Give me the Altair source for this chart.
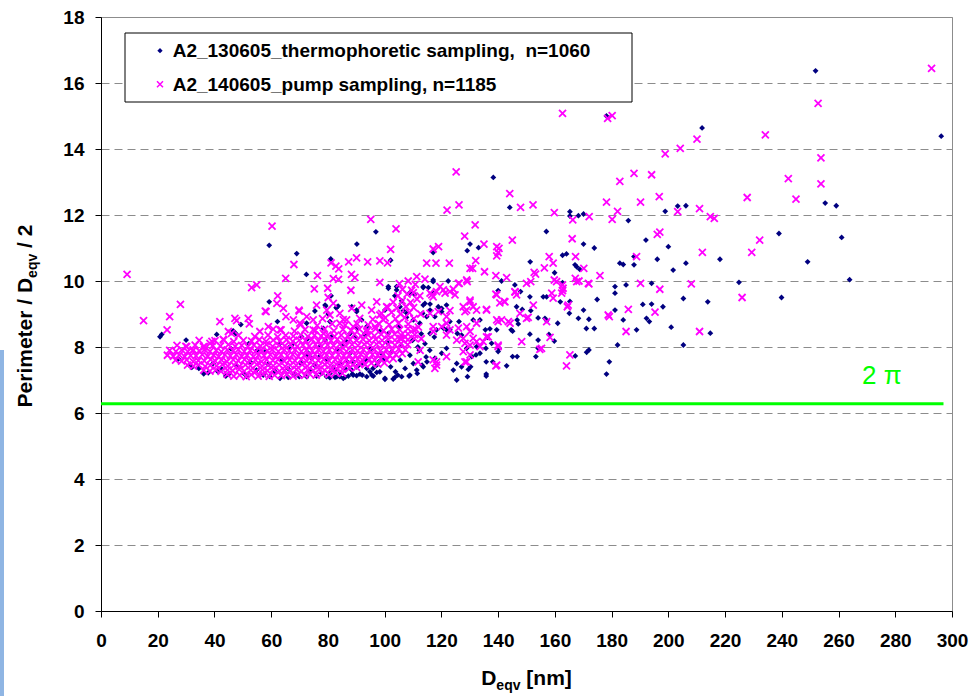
import altair as alt
import pandas as pd

# ---------------- data ----------------
legend_labels = ["A2_130605_thermophoretic sampling, \u00a0n=1060",
                 "A2_140605_pump sampling, n=1185"]
x_ticks = [0, 20, 40, 60, 80, 100, 120, 140, 160, 180, 200, 220, 240, 260, 280, 300]
y_ticks = [0, 2, 4, 6, 8, 10, 12, 14, 16, 18]
two_pi = 6.2832
green_x = [0, 297]
two_pi_label = ["2 π"]
two_pi_label_pos = [275.3, 7.12]

# A2_130605 thermophoretic sampling (navy diamonds): (Deqv, Perimeter/Deqv/2)
thermo_pts = [
    (251.9, 16.37), (296.2, 14.39), (211.9, 14.64), (178.2, 15.0), (138.3, 13.14), (144.1, 12.23),
    (165.3, 12.1), (165.3, 11.97), (168.3, 11.98), (170.1, 12.03), (185.9, 11.83), (198.9, 12.11),
    (203.3, 12.27), (206.2, 12.28), (255.3, 12.36), (259.2, 12.28), (157, 11.5),
    (170.1, 11.12), (173.9, 11.0), (192.1, 11.24), (200, 11.04), (239, 11.44), (261.1, 11.32),
    (117.1, 10.86), (130.1, 11.12), (133.1, 11.01), (129.1, 10.92), (151.3, 10.58), (162.7, 10.78),
    (164.1, 10.82), (167.1, 10.49), (167.7, 10.43), (168.8, 10.35), (187.9, 10.74), (182.9, 10.54),
    (184.1, 10.5), (187.9, 10.49), (196.1, 10.66), (201.7, 10.33), (206.2, 10.54), (218.2, 10.66),
    (249.1, 10.58), (159.9, 10.25), (145.9, 9.88), (141.2, 10.0), (140, 9.71), (147.9, 9.68),
    (162.7, 9.95), (181.2, 9.83), (181.2, 9.63), (185.1, 9.88), (194.1, 9.93), (224.9, 9.96),
    (263.9, 10.04), (165.3, 9.38), (165.1, 9.02), (170.1, 9.12), (174.9, 9.44), (181.2, 9.12),
    (191, 9.29), (194.1, 9.3), (198.1, 9.22), (205.3, 9.47), (239.9, 9.5), (213.9, 9.37),
    (168.3, 8.87), (172, 8.84), (171.1, 8.56), (173.9, 8.56), (184.1, 8.82), (192.3, 8.87),
    (193.3, 8.77), (188.8, 8.52), (201, 8.6), (214.8, 8.42), (205.3, 8.06), (182.1, 8.06),
    (172, 7.91), (171.2, 7.84), (167.2, 7.73), (179.2, 7.55), (178.2, 7.18),
    (151.2, 9.52), (155.9, 9.52), (157.1, 9.52), (161.9, 9.37), (146.5, 9.22), (148.5, 9.14),
    (151.5, 9.1), (154.1, 8.88), (156.5, 8.87), (157.1, 8.8), (161, 8.72), (144.6, 8.52),
    (145.1, 8.48), (146.7, 8.82), (147.1, 8.7), (151.2, 8.39), (157.9, 8.38), (159.8, 8.18),
    (154.1, 8.21), (154.1, 7.96), (153.3, 7.71), (146.7, 7.71), (145.1, 7.71), (140, 7.86),
    (140.4, 7.96), (135.7, 7.96), (137.7, 8.11), (138.1, 7.55), (135.8, 7.55), (135.8, 7.18),
    (135.8, 7.12), (143, 7.43), (130.3, 7.4), (129.2, 7.1), (125.4, 7.0), (127.1, 7.4),
    (129.5, 7.32), (133.6, 7.81), (132.2, 7.76), (130.7, 7.71), (139.5, 8.52), (137.1, 8.55),
    (133.6, 8.82), (131.2, 8.82), (135.5, 8.52), (136.2, 8.29), (132.4, 8.01), (128.9, 7.96),
    (125.6, 8.41), (127.1, 8.36), (126.2, 8.77), (123, 8.77), (121.8, 8.52), (123, 8.52),
    (117.1, 10.03), (113.6, 9.8), (115.4, 9.8), (117.1, 9.63), (122.4, 10.0), (108.9, 9.65),
    (104.2, 9.83), (104.2, 9.73), (121.8, 9.27), (120.1, 9.17), (114.2, 9.32), (116, 9.3),
    (114.8, 8.92), (113.4, 9.02), (105.4, 9.22), (107.8, 9.02), (110.1, 8.82), (112.4, 8.72),
    (116, 8.41), (118.3, 8.52), (120.7, 8.57), (121.8, 7.96), (120.1, 7.81), (117.7, 7.66),
    (113.6, 7.4), (111.3, 7.3), (108.9, 7.15), (106, 7.1), (103.6, 7.08), (100.1, 7.05),
    (124.2, 7.3), (125.4, 7.5), (113.6, 9.83), (117.1, 9.98), (101.3, 9.83), (106, 9.4),
    (113.6, 9.27), (116, 9.12), (118.9, 9.22), (120.1, 9.07), (117.7, 8.92),
    (59.3, 11.08), (69, 10.83), (72.4, 10.2), (81, 10.67), (90.2, 11.12), (96.9, 11.49),
    (102.1, 10.63), (81.1, 9.55), (59.3, 9.37), (20.8, 8.31), (21.4, 8.38), (30, 8.21),
    (40.8, 8.38), (27.3, 7.64), (31.1, 7.45), (32, 7.38), (36.2, 7.19), (44, 7.12), (41, 7.27),
    (46.6, 8.49), (47.5, 8.41), (49.3, 8.68), (55.1, 7.9), (63.1, 8.11), (67.8, 8.11),
    (82.9, 9.19), (79.2, 9.24), (80.1, 9.0), (75.4, 9.09), (72.5, 8.72), (62.2, 8.77),
    (90.1, 9.12), (87.8, 8.41), (90.2, 8.57), (93.1, 8.41), (101.3, 9.78), (103.6, 9.55),
    (100.1, 9.12),
    (80.7, 7.07), (82.5, 7.08), (84.2, 7.1), (86, 7.08), (88.6, 7.18), (90.1, 7.13), (92.1, 7.15),
    (93.7, 7.1), (95.5, 7.15), (97.2, 7.23), (100.1, 7.02), (103, 7.03), (104.6, 7.15), (66, 7.08),
    (69.9, 7.1), (72.5, 7.1), (76, 7.12), (59.6, 7.1), (51.4, 7.1), (63.1, 7.05), (79.5, 7.1),
    (83.1, 7.1), (85.4, 7.05), (87.2, 7.12), (88.9, 7.15), (91.3, 7.18), (96, 7.12),
    (79, 9.27), (83.1, 9.2), (83.6, 9.24), (88.4, 9.22), (90.1, 9.07), (80.7, 8.77), (78.4, 8.56),
    (70.7, 8.31), (72.5, 7.76), (73.1, 7.81), (81.3, 8.31), (83.1, 7.91), (86.6, 8.16),
    (87.8, 7.81), (88.9, 7.55), (90.1, 7.4), (91.9, 7.5), (93.7, 7.35), (94.8, 7.25), (97.2, 7.45),
    (98.3, 7.25), (99.5, 7.61), (101.3, 8.41), (98.3, 8.47), (93.7, 8.62), (91.9, 8.82),
    (93.1, 8.36), (79, 8.21), (77.2, 8.01), (74.3, 7.66), (84.2, 7.5), (86, 7.35), (80.7, 7.2),
    (82.5, 7.3),
    (34.5, 7.35), (37.8, 7.22), (39.5, 7.5), (42.6, 7.33), (45.1, 7.18), (47.9, 7.42), (50.3, 7.2),
    (52.6, 7.55), (54.8, 7.3), (57.2, 7.15), (58.9, 7.48), (61.4, 7.25), (63.8, 7.6), (65.9, 7.35),
    (68.1, 7.18), (70.3, 7.52), (73.5, 7.28), (75.2, 7.45), (77.8, 7.2), (79.6, 7.62), (81.9, 7.38),
    (84.5, 7.22), (86.8, 7.55), (88.4, 7.3), (90.9, 7.45), (93.2, 7.62), (95.9, 7.35), (97.9, 7.55),
    (99.2, 7.78), (102.1, 7.4), (103.8, 7.25), (105.5, 7.6), (107.2, 7.35), (108.6, 7.12),
    (110.1, 7.5), (111.5, 7.2), (113.2, 7.45), (114.6, 7.7),
    (45.8, 7.95), (52.1, 8.1), (57.8, 7.85), (66.2, 7.98), (72.8, 8.25), (76.9, 7.7), (85.1, 8.05),
    (89.6, 8.3), (95.1, 7.95), (100.8, 8.15), (104.9, 8.6), (107.7, 8.9), (106.6, 9.1),
    (110.4, 9.6), (109.8, 8.2), (112.9, 8.4), (114.2, 8.1), (115.9, 7.9), (117.5, 8.3),
    (102.5, 7.85), (105.8, 8.05), (108.9, 7.75), (111.7, 8.0), (114.9, 7.55), (112.2, 7.9),
]

# A2_140605 pump sampling (magenta crosses): (Deqv, Perimeter/Deqv/2)
pump_pts = [
    (292.8, 16.44), (252.8, 15.38), (162.7, 15.08), (178.6, 14.93), (180.2, 15.01), (210.1, 14.3),
    (204.2, 14.02), (198.9, 13.85), (234.2, 14.43), (253.8, 13.73), (242.3, 13.1), (253.8, 12.94),
    (125.2, 13.31), (182.9, 13.02), (187.9, 13.26), (194.1, 13.22),
    (144.1, 12.65), (196.8, 12.56), (190.2, 12.39), (178.2, 12.39), (147.9, 12.23), (152.3, 12.31),
    (122, 12.15), (126.2, 12.31), (159.8, 12.07), (166.3, 11.85), (172.1, 11.95), (180.2, 11.87),
    (182.1, 12.11), (203.3, 12.1), (211, 12.19), (214.8, 11.95), (216.2, 11.9), (227.8, 12.53),
    (245, 12.48),
    (104, 11.58), (102.1, 10.96), (131.9, 11.7), (128.2, 11.36), (145, 11.24), (166.1, 11.28),
    (196.1, 11.41), (197, 11.48), (232.2, 11.24), (212, 10.87), (229.4, 10.87), (117.1, 10.97),
    (119, 11.04), (135, 11.12), (139.5, 11.04), (140.3, 10.99), (139.5, 10.76), (140, 10.86),
    (132.1, 10.62), (130.1, 10.38), (131, 10.38), (114.8, 10.54), (118.1, 10.54), (122.8, 10.54),
    (135.2, 10.28), (158, 10.74), (167.3, 10.74), (170.2, 10.38), (175.9, 10.16), (188.8, 10.74),
    (152.7, 10.26), (153.2, 10.21), (156.3, 10.4), (159.4, 10.54), (150, 9.93), (151.5, 9.98),
    (143, 10.1), (139.2, 10.16), (139.2, 9.6), (142.1, 9.38), (140.6, 9.34), (146, 9.66),
    (159.8, 10.03), (162.7, 9.88), (162.9, 9.78), (162.7, 9.71), (167.2, 10.08), (168.5, 10.0),
    (172, 9.91), (190.2, 9.93), (197, 9.75), (208.1, 9.91), (226, 9.5), (164.4, 9.22),
    (185.9, 9.14), (179.2, 8.92), (195.3, 9.06), (185.1, 8.47), (211, 8.47), (165.3, 7.76),
    (164.1, 7.43),
    (116, 9.63), (117.1, 9.52), (119.5, 9.83), (121.3, 9.63), (123, 9.68), (124.8, 9.58),
    (126, 9.93), (128.9, 10.03), (130.1, 9.37), (131.2, 9.22), (128.3, 9.07), (132.4, 9.12),
    (135.9, 9.12), (139.5, 9.58), (142.4, 9.37), (145.9, 9.68), (146.5, 9.58), (152.4, 9.27),
    (150, 8.87), (143.6, 8.77), (140, 8.77), (144.2, 8.72), (141.2, 8.82), (158.9, 9.63),
    (159.4, 9.48), (162.4, 9.63), (160.6, 9.98), (167.7, 9.98), (171.8, 9.93), (164.7, 9.27),
    (157.1, 8.77), (155.3, 7.96), (178.8, 8.97), (117.1, 8.62), (121.8, 8.72), (123, 8.52),
    (126, 8.57), (128.9, 8.62), (130.1, 8.47), (132.4, 8.72), (125.4, 8.21), (128.3, 8.11),
    (131.2, 8.26), (134.7, 8.16), (136.5, 8.31), (140, 8.06), (148.3, 8.16), (121.8, 7.71),
    (118.3, 7.55), (117.7, 7.35), (127.7, 7.86), (130.1, 7.76), (128.9, 7.55), (139.5, 7.45),
    (111.3, 10.13), (114.2, 10.06), (110.1, 9.65), (112.4, 9.55), (116.6, 9.58), (118.3, 9.68),
    (120.7, 9.73), (124.2, 9.75), (126.3, 9.93), (129.1, 9.98), (130.1, 9.42), (127.7, 9.22),
    (128.9, 9.12), (135.9, 9.14), (116, 9.02), (118.9, 9.07), (121.8, 8.92), (123, 9.1),
    (117.1, 8.47), (120.1, 8.62), (121.8, 8.36), (127.7, 8.26), (130.1, 8.06), (132.4, 8.16),
    (133.6, 8.01), (135.9, 8.31), (139.5, 8.82), (147.7, 9.02), (150.6, 8.9), (140, 8.01),
    (139.2, 7.43), (154.7, 7.93), (158.3, 8.29), (117.1, 7.61), (118.3, 7.45), (128.3, 7.55),
    (105.4, 8.26), (107.2, 8.31), (110.1, 8.52),
    (9.2, 10.2), (15, 8.8), (24.2, 8.92), (28, 9.29), (23.3, 8.52), (60.3, 11.66), (68, 10.5),
    (65.1, 10.08), (76.3, 10.16), (53.1, 9.8), (54.9, 9.88), (62.3, 9.55), (62, 9.32),
    (57.9, 9.09), (69.9, 9.09), (75.2, 9.76), (79.9, 9.78), (81.1, 10.55), (82.8, 10.45),
    (83.8, 10.37), (81.9, 10.07), (83.7, 10.05), (90.1, 10.7), (87.3, 10.58), (94, 10.58),
    (95.1, 11.87), (98.3, 10.61), (101, 10.55), (88.3, 10.2), (89.5, 10.1), (98.3, 9.96),
    (88.1, 9.72), (80.1, 9.5),
    (41.9, 8.77), (47.2, 8.87), (47.8, 8.8), (51.9, 8.87), (52.3, 8.7), (58.2, 9.07), (64.3, 9.17),
    (65.2, 8.92), (69.8, 9.12), (56, 8.47), (59, 8.62), (60.7, 8.54), (63.1, 8.52), (43.1, 8.23),
    (40.2, 8.19), (44.9, 8.47), (46, 8.41), (30.2, 8.01), (32.5, 7.91), (36.1, 8.01), (38.4, 8.11),
    (76, 9.27), (79.6, 9.12), (81.9, 9.32), (84.2, 9.02), (86.6, 8.82), (88.4, 9.17), (91.9, 9.27),
    (95.4, 9.12), (97.2, 9.37), (98.3, 8.97), (100.7, 9.22), (99.5, 8.82), (96.6, 8.62),
    (93.7, 8.47), (88.9, 8.62), (84.2, 8.72), (80.7, 8.97), (74.8, 8.82), (72.5, 8.92),
    (70.1, 8.72), (67.8, 8.82), (74.8, 8.52), (78.4, 8.41),
    # dense band
    (44.5, 7.17), (46.8, 7.12), (48.9, 7.15), (51.2, 7.1), (53.0, 7.16), (55.4, 7.12), (57.1, 7.18),
    (59.3, 7.11), (61.2, 7.15), (63.6, 7.13), (65.4, 7.17), (67.7, 7.12), (69.5, 7.16), (71.8, 7.14),
    (73.6, 7.18), (75.9, 7.15), (78.2, 7.2), (80.4, 7.17), (82.7, 7.22), (85.1, 7.2),
    (36.2, 7.3), (38.4, 7.27), (40.5, 7.31), (42.3, 7.26), (44.6, 7.3), (46.4, 7.28), (48.7, 7.32),
    (50.5, 7.27), (52.8, 7.3), (54.6, 7.26), (56.9, 7.31), (58.7, 7.28), (60.8, 7.32), (62.9, 7.27),
    (64.7, 7.3), (66.8, 7.28), (68.9, 7.32), (70.7, 7.27), (72.9, 7.31), (74.8, 7.29), (76.9, 7.33),
    (78.8, 7.3), (80.9, 7.32), (83.0, 7.35), (85.2, 7.33), (87.6, 7.36), (90.1, 7.38),
    (30.5, 7.45), (32.6, 7.42), (34.4, 7.46), (36.7, 7.41), (38.5, 7.44), (40.7, 7.43), (42.8, 7.47),
    (44.7, 7.42), (46.9, 7.45), (48.8, 7.41), (50.9, 7.46), (52.7, 7.43), (54.9, 7.47), (56.8, 7.42),
    (58.9, 7.45), (60.7, 7.43), (62.8, 7.46), (64.9, 7.41), (66.7, 7.45), (68.8, 7.44), (70.9, 7.47),
    (72.7, 7.42), (74.9, 7.46), (76.8, 7.43), (78.9, 7.47), (80.8, 7.44), (82.9, 7.48), (84.8, 7.45),
    (86.9, 7.49), (88.8, 7.46), (91.0, 7.5), (93.1, 7.47), (95.3, 7.51), (97.6, 7.48), (99.9, 7.52),
    (26.3, 7.6), (28.4, 7.57), (30.2, 7.61), (32.5, 7.56), (34.3, 7.59), (36.4, 7.58), (38.6, 7.62),
    (40.3, 7.57), (42.5, 7.6), (44.4, 7.56), (46.6, 7.61), (48.4, 7.58), (50.6, 7.62), (52.4, 7.57),
    (54.5, 7.6), (56.6, 7.56), (58.4, 7.61), (60.6, 7.59), (62.4, 7.62), (64.6, 7.57), (66.5, 7.6),
    (68.4, 7.58), (70.6, 7.62), (72.5, 7.57), (74.4, 7.61), (76.6, 7.59), (78.5, 7.62), (80.4, 7.58),
    (82.6, 7.61), (84.5, 7.57), (86.4, 7.62), (88.6, 7.6), (90.5, 7.63), (92.4, 7.59), (94.6, 7.62),
    (96.5, 7.6), (98.6, 7.64), (100.7, 7.61), (103.0, 7.65),
    (23.4, 7.75), (25.5, 7.72), (27.6, 7.76), (29.5, 7.71), (31.6, 7.74), (33.5, 7.73), (35.7, 7.77),
    (37.6, 7.72), (39.7, 7.75), (41.5, 7.71), (43.7, 7.76), (45.6, 7.73), (47.7, 7.77), (49.6, 7.72),
    (51.5, 7.75), (53.7, 7.71), (55.6, 7.76), (57.5, 7.74), (59.7, 7.77), (61.6, 7.72), (63.5, 7.76),
    (65.7, 7.73), (67.6, 7.77), (69.5, 7.72), (71.7, 7.75), (73.6, 7.73), (75.5, 7.77), (77.7, 7.72),
    (79.6, 7.76), (81.5, 7.74), (83.7, 7.77), (85.6, 7.73), (87.5, 7.76), (89.7, 7.74), (91.6, 7.78),
    (93.5, 7.73), (95.7, 7.77), (97.6, 7.75), (99.5, 7.78), (101.7, 7.74), (104.0, 7.77), (106.2, 7.8),
    (24.2, 7.9), (26.4, 7.87), (28.5, 7.91), (30.6, 7.86), (32.4, 7.89), (34.6, 7.88), (36.5, 7.92),
    (38.4, 7.87), (40.6, 7.9), (42.4, 7.86), (44.5, 7.91), (46.6, 7.88), (48.4, 7.92), (50.5, 7.87),
    (52.6, 7.9), (54.4, 7.86), (56.5, 7.91), (58.6, 7.89), (60.4, 7.92), (62.5, 7.87), (64.6, 7.91),
    (66.4, 7.88), (68.5, 7.92), (70.6, 7.87), (72.4, 7.9), (74.5, 7.88), (76.6, 7.92), (78.4, 7.87),
    (80.5, 7.91), (82.6, 7.89), (84.4, 7.92), (86.5, 7.87), (88.6, 7.91), (90.4, 7.88), (92.5, 7.92),
    (94.6, 7.89), (96.4, 7.93), (98.5, 7.88), (100.6, 7.92), (102.7, 7.9), (105.0, 7.94), (107.3, 7.91),
    (26.8, 8.05), (29.9, 8.02), (33.2, 8.06), (36.5, 8.01), (39.4, 8.04), (42.1, 8.03), (44.9, 8.07),
    (47.3, 8.02), (49.6, 8.05), (51.8, 8.01), (53.9, 8.06), (56.2, 8.03), (58.3, 8.07), (60.5, 8.02),
    (62.7, 8.05), (64.8, 8.03), (66.9, 8.07), (69.1, 8.02), (71.2, 8.06), (73.4, 8.03), (75.6, 8.07),
    (77.7, 8.02), (79.9, 8.06), (82.0, 8.04), (84.2, 8.08), (86.3, 8.03), (88.5, 8.07), (90.6, 8.04),
    (92.8, 8.08), (94.9, 8.05), (97.1, 8.09), (99.2, 8.04), (101.4, 8.08), (103.6, 8.06), (105.8, 8.1),
    (108.1, 8.07),
    (34.6, 8.2), (39.1, 8.17), (43.3, 8.21), (46.8, 8.16), (50.2, 8.2), (53.1, 8.18), (55.8, 8.22),
    (58.2, 8.17), (60.7, 8.21), (63.0, 8.18), (65.4, 8.22), (67.6, 8.17), (69.9, 8.21), (72.1, 8.19),
    (74.4, 8.23), (76.6, 8.18), (78.9, 8.22), (81.1, 8.19), (83.3, 8.23), (85.6, 8.18), (87.8, 8.22),
    (90.1, 8.2), (92.3, 8.24), (94.6, 8.19), (96.8, 8.23), (99.1, 8.2), (101.3, 8.24), (103.6, 8.21),
    (105.9, 8.25), (108.2, 8.22), (110.5, 8.26),
    (48.5, 8.35), (54.2, 8.32), (58.9, 8.36), (62.3, 8.31), (65.1, 8.35), (67.8, 8.33), (70.4, 8.37),
    (72.9, 8.32), (75.3, 8.36), (77.6, 8.33), (80.0, 8.37), (82.3, 8.32), (84.7, 8.36), (87.0, 8.34),
    (89.4, 8.38), (91.7, 8.33), (94.1, 8.37), (96.4, 8.34), (98.8, 8.38), (101.1, 8.35), (103.5, 8.39),
    (105.8, 8.36), (108.2, 8.4), (110.6, 8.37),
    (63.5, 8.52), (68.2, 8.48), (71.9, 8.53), (75.5, 8.5), (78.8, 8.54), (82.1, 8.49), (85.3, 8.53),
    (88.2, 8.5), (91.1, 8.54), (93.9, 8.51), (96.8, 8.55), (99.6, 8.5), (102.5, 8.54), (105.3, 8.52),
    (108.2, 8.56), (111.0, 8.53),
    (70.5, 8.68), (76.2, 8.65), (81.5, 8.7), (86.1, 8.66), (90.3, 8.7), (94.2, 8.67), (97.9, 8.71),
    (101.6, 8.68), (104.9, 8.72), (108.3, 8.69),
    (78.1, 8.86), (85.4, 8.83), (91.2, 8.87), (95.8, 8.84), (100.2, 8.88), (103.8, 8.85),
    (107.1, 8.89), (110.3, 8.86),
    (98.9, 9.02), (102.4, 9.05), (105.6, 9.0), (108.7, 9.04), (101.1, 9.2), (104.3, 9.18),
    (107.5, 9.22), (110.2, 9.19), (103.0, 9.36), (106.2, 9.4), (109.1, 9.35), (104.7, 9.55),
    (107.9, 9.6), (106.3, 9.75), (109.5, 9.72),
    (111.8, 7.55), (112.5, 7.9), (111.9, 8.6), (112.7, 9.0), (111.4, 9.45), (110.8, 9.9),
    (108.3, 10.0), (105.2, 9.92), (112.9, 8.25),
]

# ---------------- layout / style ----------------
W, H = 851, 594
FONT = "Liberation Sans"
NAVY = "#000080"
MAGENTA = "#FF00FF"
GREEN = "#00FF00"
XPATH = "M-1,-1L1,1M-1,1L1,-1"

# Arial/Liberation Sans Bold advance widths (1/1000 em) for title layout
BOLDW = {' ': 278, '/': 278, '2': 556, 'P': 667, 'e': 556, 'r': 389, 'i': 278, 'm': 889,
         't': 333, 'D': 722, 'q': 611, 'v': 556, '[': 333, 'n': 611, ']': 333}


def tw(s, fs):
    return sum(BOLDW[c] for c in s) / 1000.0 * fs


thermo_df = pd.DataFrame(thermo_pts, columns=["d", "p"])
pump_df = pd.DataFrame(pump_pts, columns=["d", "p"])
green_df = pd.DataFrame({"d": green_x, "p": [two_pi] * len(green_x)})
label_df = pd.DataFrame({"d": [two_pi_label_pos[0]], "p": [two_pi_label_pos[1]], "t": two_pi_label})

xs = alt.Scale(domain=[0, 300], nice=False, zero=False)
ys = alt.Scale(domain=[0, 18], nice=False)

x_axis = alt.Axis(values=x_ticks, title=None, grid=False, domainColor="black", domainWidth=1,
                  tickColor="black", tickSize=6, tickWidth=1, labelFont=FONT, labelFontSize=19,
                  labelFontWeight="bold", labelColor="black", labelPadding=14,
                  labelFlush=False, labelOverlap=False)
y_axis = alt.Axis(values=y_ticks, title=None, grid=True, gridColor="#8c8c8c", gridDash=[8, 5],
                  gridWidth=1, domainColor="black", domainWidth=1, tickColor="black", tickSize=6,
                  tickWidth=1, labelFont=FONT, labelFontSize=19, labelFontWeight="bold",
                  labelColor="black", labelPadding=11, labelFlush=False, labelOverlap=False)


def enc(chart):
    return chart.encode(x=alt.X("d:Q", scale=xs, axis=x_axis), y=alt.Y("p:Q", scale=ys, axis=y_axis))


thermo = enc(alt.Chart(thermo_df).mark_point(shape="diamond", filled=True, size=34, color=NAVY,
                                             opacity=1, strokeWidth=0))
pump = enc(alt.Chart(pump_df).mark_point(shape=XPATH, filled=False, size=49, color=MAGENTA,
                                         opacity=1, strokeWidth=1.8))
green = enc(alt.Chart(green_df).mark_line(color=GREEN, strokeWidth=3))
pi_text = enc(alt.Chart(label_df).mark_text(color=GREEN, font=FONT, fontSize=26, align="center",
                                            baseline="middle")).encode(text="t:N")

one = pd.DataFrame({"t": [""]})

strip = alt.Chart(one).mark_rect(fill="#8fb5e3").encode(
    x=alt.value(-101), x2=alt.value(-97), y=alt.value(333), y2=alt.value(679))

legend_box = alt.Chart(one).mark_rect(fill="white", stroke="black", strokeWidth=1).encode(
    x=alt.value(24), x2=alt.value(531), y=alt.value(16), y2=alt.value(85))
leg_sym1 = alt.Chart(one).mark_point(shape="diamond", filled=True, size=28, color=NAVY, opacity=1,
                                     strokeWidth=0).encode(x=alt.value(59), y=alt.value(33.7))
leg_sym2 = alt.Chart(one).mark_point(shape=XPATH, filled=False, size=36, color=MAGENTA, opacity=1,
                                     strokeWidth=1.5).encode(x=alt.value(59), y=alt.value(67.3))
leg_txt1 = alt.Chart(pd.DataFrame({"t": [legend_labels[0]]})).mark_text(
    font=FONT, fontSize=19, fontWeight="bold", color="black", align="left", baseline="middle"
).encode(x=alt.value(71.7), y=alt.value(34), text="t:N")
leg_txt2 = alt.Chart(pd.DataFrame({"t": [legend_labels[1]]})).mark_text(
    font=FONT, fontSize=19, fontWeight="bold", color="black", align="left", baseline="middle"
).encode(x=alt.value(71.7), y=alt.value(67.6), text="t:N")

# x axis title: D_eqv [nm]
TF, SF = 21, 14
xt_total = tw("D", TF) + tw("eqv", SF) + tw(" [nm]", TF)
xt0 = W / 2 - xt_total / 2
xt_base = 668
x_title_parts = [
    ("D", TF, xt0, xt_base),
    ("eqv", SF, xt0 + tw("D", TF), xt_base + 5),
    ("[nm]", TF, xt0 + tw("D", TF) + tw("eqv", SF) + tw(" ", TF), xt_base),
]
x_title = [
    alt.Chart(pd.DataFrame({"t": [s]})).mark_text(
        font=FONT, fontSize=fs, fontWeight="bold", color="black", align="left", baseline="alphabetic"
    ).encode(x=alt.value(px), y=alt.value(py), text="t:N")
    for s, fs, px, py in x_title_parts
]

# y axis title (rotated): Perimeter / D_eqv / 2
yt_total = tw("Perimeter / D", TF) + tw("eqv", SF) + tw(" / 2", TF)
yt0 = 299 + yt_total / 2
yt_base = -69
y_title_parts = [
    ("Perimeter / D", TF, yt_base, yt0),
    ("eqv", SF, yt_base + 5, yt0 - tw("Perimeter / D", TF)),
    ("/ 2", TF, yt_base, yt0 - tw("Perimeter / D", TF) - tw("eqv", SF) - tw(" ", TF)),
]
y_title = [
    alt.Chart(pd.DataFrame({"t": [s]})).mark_text(
        font=FONT, fontSize=fs, fontWeight="bold", color="black", align="left",
        baseline="alphabetic", angle=270
    ).encode(x=alt.value(px), y=alt.value(py), text="t:N")
    for s, fs, px, py in y_title_parts
]

chart = alt.layer(
    thermo, pump, green, pi_text, strip, legend_box, leg_sym1, leg_sym2, leg_txt1, leg_txt2,
    *x_title, *y_title
).properties(
    width=W, height=H,
    padding={"left": 101, "top": 17, "right": 21, "bottom": 85},
    autosize=alt.AutoSizeParams(type="none"),
    background="white",
).configure_view(stroke="#8c8c8c", strokeWidth=1)

chart.save("out.html", embed_options={"renderer": "svg", "actions": False})
